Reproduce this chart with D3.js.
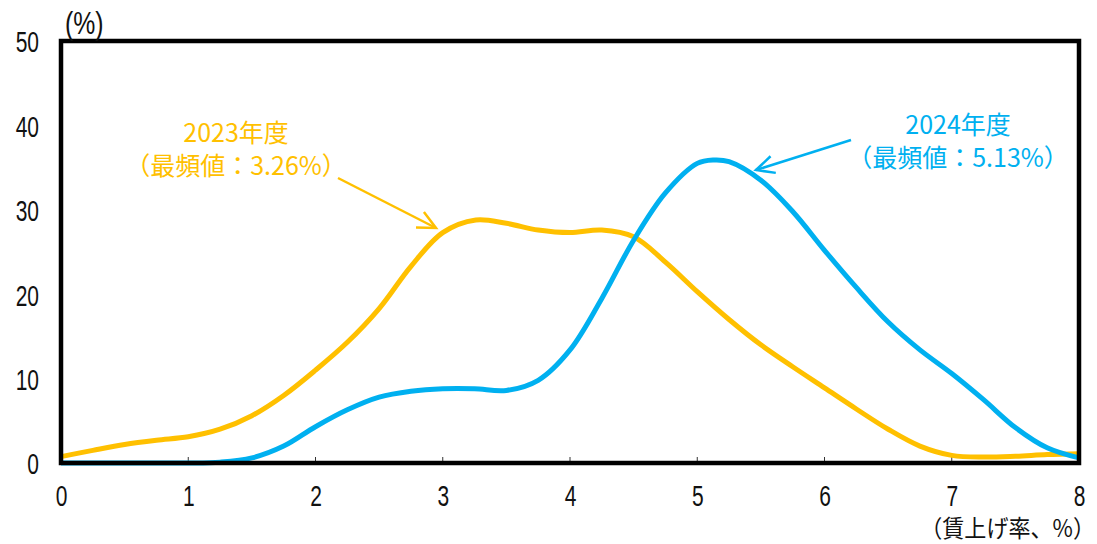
<!DOCTYPE html>
<html>
<head>
<meta charset="utf-8">
<script src="https://cdn.jsdelivr.net/npm/d3@7"></script>
<style>
  html, body { margin: 0; padding: 0; background: #fff; }
  svg { display: block; }
</style>
</head>
<body>
<svg id="chart" width="1097" height="544"></svg>
<script>
// Wage-increase rate distribution (share of firms, %), by fiscal year
const xRate23 = [0, 0.25, 0.5, 0.75, 1, 1.25, 1.5, 1.75, 2, 2.25, 2.5, 2.75, 3, 3.26, 3.5, 3.75, 4, 4.25, 4.5, 4.75, 5, 5.25, 5.5, 5.75, 6, 6.25, 6.5, 6.75, 7, 7.25, 7.5, 7.75, 8];
const share2023 = [0.75, 1.5, 2.2, 2.7, 3.1, 4.0, 5.6, 8.0, 11.0, 14.3, 18.3, 23.3, 27.3, 28.8, 28.4, 27.6, 27.3, 27.6, 26.8, 23.8, 20.3, 17.0, 14.0, 11.4, 8.9, 6.4, 4.0, 2.0, 0.9, 0.7, 0.8, 1.0, 1.1];

const xRate24 = [0, 0.25, 0.5, 0.75, 1, 1.25, 1.5, 1.75, 2, 2.25, 2.5, 2.75, 3, 3.25, 3.5, 3.75, 4, 4.25, 4.5, 4.75, 5, 5.13, 5.25, 5.5, 5.75, 6, 6.25, 6.5, 6.75, 7, 7.25, 7.5, 7.75, 8];
const share2024 = [0, 0, 0, 0, 0, 0.1, 0.6, 2.0, 4.3, 6.3, 7.8, 8.5, 8.8, 8.8, 8.6, 9.8, 13.4, 19.5, 26.4, 32.0, 35.5, 35.9, 35.7, 33.5, 29.8, 25.2, 20.8, 16.7, 13.4, 10.6, 7.5, 4.2, 1.8, 0.6];

const xTicks = [0, 1, 2, 3, 4, 5, 6, 7, 8];
const yTicks = [0, 10, 20, 30, 40, 50];

const series = [
  { name: "2023年度", mode: "（最頻値：3.26%）", x: xRate23, y: share2023, color: "#FFC000" },
  { name: "2024年度", mode: "（最頻値：5.13%）", x: xRate24, y: share2024, color: "#00B0F0" }
];

const svg = d3.select("#chart");
const plot = { left: 61, right: 1079, top: 41, bottom: 463 };

const x = d3.scaleLinear().domain([0, 8]).range([plot.left, plot.right]);
const y = d3.scaleLinear().domain([0, 50]).range([plot.bottom, plot.top]);

const numFont = "'Liberation Sans Narrow', 'Liberation Sans', Arial, sans-serif";
const jpFont = "'Noto Sans CJK JP', 'Noto Sans', sans-serif";

// X axis tick labels
const xAxis = d3.axisBottom(x).tickValues(xTicks).tickSize(0).tickPadding(0).tickFormat(d3.format("d"));
const gx = svg.append("g").attr("transform", `translate(0,${plot.bottom})`).call(xAxis);
gx.select(".domain").remove();
gx.selectAll(".tick text")
  .attr("font-family", numFont).attr("font-size", 30).attr("fill", "#111")
  .attr("dy", 0).attr("y", 0)
  .attr("transform", "translate(0,43) scale(0.7,1)");

// Y axis tick labels
const yAxis = d3.axisLeft(y).tickValues(yTicks).tickSize(0).tickPadding(0).tickFormat(d3.format("d"));
const gy = svg.append("g").attr("transform", `translate(${plot.left},0)`).call(yAxis);
gy.select(".domain").remove();
gy.selectAll(".tick text")
  .attr("font-family", numFont).attr("font-size", 30).attr("fill", "#111")
  .attr("x", 0).attr("dy", "0.36em")
  .attr("transform", "translate(-22,0) scale(0.7,1)");

// Small inner ticks on the bottom axis
svg.append("g").selectAll("line").data(xTicks).join("line")
  .attr("x1", d => x(d)).attr("x2", d => x(d))
  .attr("y1", plot.bottom).attr("y2", plot.bottom - 6)
  .attr("stroke", "#333").attr("stroke-width", 1);

// Smoothed distribution curves
const line = d3.line().curve(d3.curveCatmullRom.alpha(0.5));
series.forEach(s => {
  const pts = s.x.map((v, i) => [x(v), y(s.y[i])]);
  svg.append("path")
    .attr("d", line(pts))
    .attr("fill", "none")
    .attr("stroke", s.color)
    .attr("stroke-width", 5)
    .attr("stroke-linejoin", "round");
});

// Plot frame
svg.append("rect")
  .attr("x", plot.left).attr("y", plot.top)
  .attr("width", plot.right - plot.left).attr("height", plot.bottom - plot.top)
  .attr("fill", "none").attr("stroke", "#000").attr("stroke-width", 4.5);

// Axis unit labels
svg.append("text").text("(%)")
  .attr("font-family", numFont).attr("font-size", 31).attr("fill", "#111")
  .attr("transform", "translate(65,34) scale(0.8,1)");
svg.append("text").text("（賃上げ率、%）")
  .attr("font-family", jpFont).attr("font-size", 24).attr("fill", "#111")
  .attr("text-anchor", "end")
  .attr("transform", "translate(1095,537) scale(0.92,1)");

// Annotation labels with arrows pointing to each mode
const notes = [
  { s: series[0], cx: 236, y1: 142, y2: 175, from: [338, 178], to: [436, 228] },
  { s: series[1], cx: 958, y1: 134, y2: 167, from: [851, 140], to: [756, 170] }
];
notes.forEach(n => {
  const g = svg.append("g").attr("fill", n.s.color).attr("font-family", jpFont).attr("font-size", 25).attr("text-anchor", "middle");
  g.append("text").text(n.s.name).attr("transform", `translate(${n.cx},${n.y1})`);
  g.append("text").text(n.s.mode).attr("transform", `translate(${n.cx},${n.y2})`);

  const [x1, y1] = n.from, [x2, y2] = n.to;
  const ang = Math.atan2(y2 - y1, x2 - x1);
  const len = 20, spread = 0.45;
  const a1 = [x2 - len * Math.cos(ang - spread), y2 - len * Math.sin(ang - spread)];
  const a2 = [x2 - len * Math.cos(ang + spread), y2 - len * Math.sin(ang + spread)];
  svg.append("line").attr("x1", x1).attr("y1", y1).attr("x2", x2).attr("y2", y2)
    .attr("stroke", n.s.color).attr("stroke-width", 2.5);
  svg.append("path").attr("d", `M${a1[0]},${a1[1]}L${x2},${y2}L${a2[0]},${a2[1]}`)
    .attr("fill", "none").attr("stroke", n.s.color).attr("stroke-width", 2.5)
    .attr("stroke-linejoin", "miter");
});
</script>
</body>
</html>
